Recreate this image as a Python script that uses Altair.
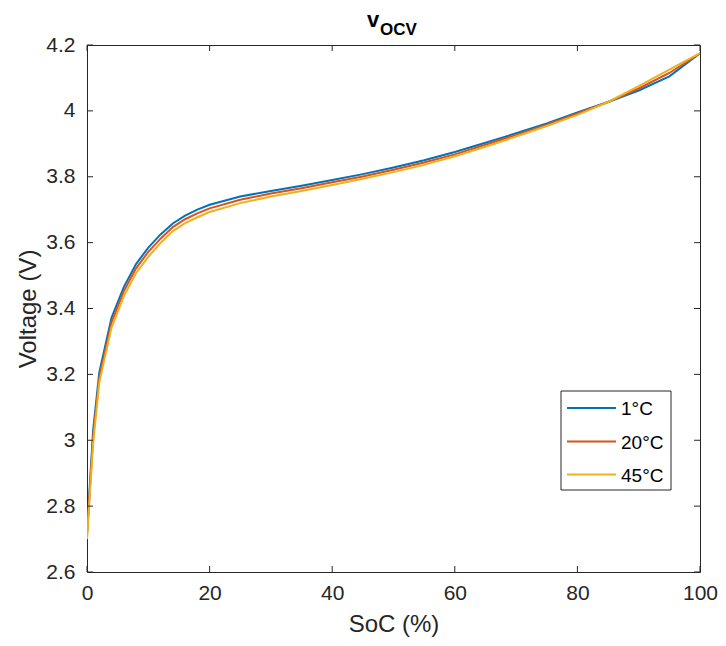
import altair as alt
import pandas as pd

# ---- data ----
soc = [0, 1, 2, 4, 6, 8, 10, 12, 14, 16, 18, 20, 25, 30, 35, 40, 45, 50,
       55, 60, 65, 70, 75, 80, 85, 90, 95, 100]
v_1c = [2.72, 3.03, 3.205, 3.372, 3.465, 3.535, 3.585, 3.625, 3.658, 3.682,
        3.700, 3.715, 3.740, 3.757, 3.773, 3.790, 3.808, 3.828, 3.850, 3.875,
        3.903, 3.932, 3.962, 3.995, 4.027, 4.062, 4.105, 4.175]
v_20c = [2.71, 3.01, 3.190, 3.358, 3.452, 3.522, 3.572, 3.612, 3.647, 3.671,
         3.689, 3.704, 3.730, 3.749, 3.765, 3.783, 3.801, 3.821, 3.843, 3.868,
         3.897, 3.927, 3.958, 3.992, 4.027, 4.068, 4.115, 4.175]
v_45c = [2.70, 2.99, 3.175, 3.342, 3.437, 3.508, 3.557, 3.599, 3.635, 3.659,
         3.677, 3.693, 3.720, 3.740, 3.757, 3.775, 3.794, 3.814, 3.836, 3.862,
         3.891, 3.922, 3.954, 3.988, 4.027, 4.075, 4.125, 4.175]
series = ["1°C", "20°C", "45°C"]
colors = ["#0072BD", "#D95319", "#EDB120"]
x_ticks = [0, 20, 40, 60, 80, 100]
y_ticks = [2.6, 2.8, 3.0, 3.2, 3.4, 3.6, 3.8, 4.0, 4.2]
title_main = "v"
title_sub = "OCV"

W, H = 613, 527
INK = "#262626"
FONT = "Liberation Sans"
TL = 6  # inward tick length

rows = []
for name, vals in zip(series, [v_1c, v_20c, v_45c]):
    for s, v in zip(soc, vals):
        rows.append({"SoC": s, "V": v, "series": name})
df = pd.DataFrame(rows)

xscale = alt.Scale(domain=[0, 100], nice=False, zero=False)
yscale = alt.Scale(domain=[2.6, 4.2], nice=False, zero=False)

xaxis = alt.Axis(values=x_ticks, title="SoC (%)", grid=False, domain=False,
                 ticks=False, tickSize=0, labelFontSize=21, labelFont=FONT,
                 labelColor=INK, labelPadding=10, labelFlush=False,
                 labelOverlap=False, titleFontSize=24, titleFont=FONT,
                 titleFontWeight="normal", titleColor=INK, titlePadding=9)
yaxis = alt.Axis(values=y_ticks, format="~g", title="Voltage (V)", grid=False,
                 domain=False, ticks=False, tickSize=0, labelFontSize=21,
                 labelFont=FONT, labelColor=INK, labelPadding=12,
                 labelFlush=False, labelOverlap=False, titleFontSize=24,
                 titleFont=FONT, titleFontWeight="normal", titleColor=INK,
                 titlePadding=5)

lines = alt.Chart(df).mark_line(strokeWidth=2, clip=True).encode(
    x=alt.X("SoC:Q", scale=xscale, axis=xaxis),
    y=alt.Y("V:Q", scale=yscale, axis=yaxis),
    color=alt.Color("series:N", scale=alt.Scale(domain=series, range=colors),
                    legend=None),
)

xt = pd.DataFrame({"t": x_ticks})
yt = pd.DataFrame({"t": y_ticks})
tick_style = dict(color=INK, strokeWidth=1)
xb = alt.Chart(xt).mark_rule(**tick_style).encode(
    x=alt.X("t:Q", scale=xscale), y=alt.value(H), y2=alt.value(H - TL))
xtop = alt.Chart(xt).mark_rule(**tick_style).encode(
    x=alt.X("t:Q", scale=xscale), y=alt.value(0), y2=alt.value(TL))
yl = alt.Chart(yt).mark_rule(**tick_style).encode(
    y=alt.Y("t:Q", scale=yscale), x=alt.value(0), x2=alt.value(TL))
yr = alt.Chart(yt).mark_rule(**tick_style).encode(
    y=alt.Y("t:Q", scale=yscale), x=alt.value(W), x2=alt.value(W - TL))

# legend (drawn by hand, MATLAB style)
LX0, LX1, LY0, LY1 = 474, 584, 346, 445
legend_box = alt.Chart(pd.DataFrame({"a": [0]})).mark_rect(
    fill="white", stroke=INK, strokeWidth=1).encode(
    x=alt.value(LX0), x2=alt.value(LX1), y=alt.value(LY0), y2=alt.value(LY1))
row_y = [363, 396.5, 429.5]
leg_layers = []
for name, col, ry in zip(series, colors, row_y):
    leg_layers.append(
        alt.Chart(pd.DataFrame({"a": [0]})).mark_rule(color=col, strokeWidth=2).encode(
            x=alt.value(480), x2=alt.value(529), y=alt.value(ry)))
    leg_layers.append(
        alt.Chart(pd.DataFrame({"lab": [name]})).mark_text(
            align="left", baseline="middle", font=FONT, fontSize=19,
            color="#000000").encode(
            text="lab:N", x=alt.value(534), y=alt.value(ry + 1)))

t1 = alt.Chart(pd.DataFrame({"t": [title_main]})).mark_text(
    align="left", baseline="alphabetic", font=FONT, fontSize=22,
    fontWeight="bold", color="#000000").encode(
    text="t:N", x=alt.value(280), y=alt.value(-18))
t2 = alt.Chart(pd.DataFrame({"t": [title_sub]})).mark_text(
    align="left", baseline="alphabetic", font=FONT, fontSize=17,
    fontWeight="bold", color="#000000").encode(
    text="t:N", x=alt.value(293), y=alt.value(-10))

chart = alt.layer(lines, xb, xtop, yl, yr, legend_box, *leg_layers, t1, t2).properties(
    width=W, height=H,
    autosize=alt.AutoSizeParams(type="none"),
    padding={"left": 79, "top": 37, "right": 18, "bottom": 66},
    background="white",
).configure_view(stroke=INK, strokeWidth=1)

chart.save("out.html", embed_options={"renderer": "svg", "actions": False})
